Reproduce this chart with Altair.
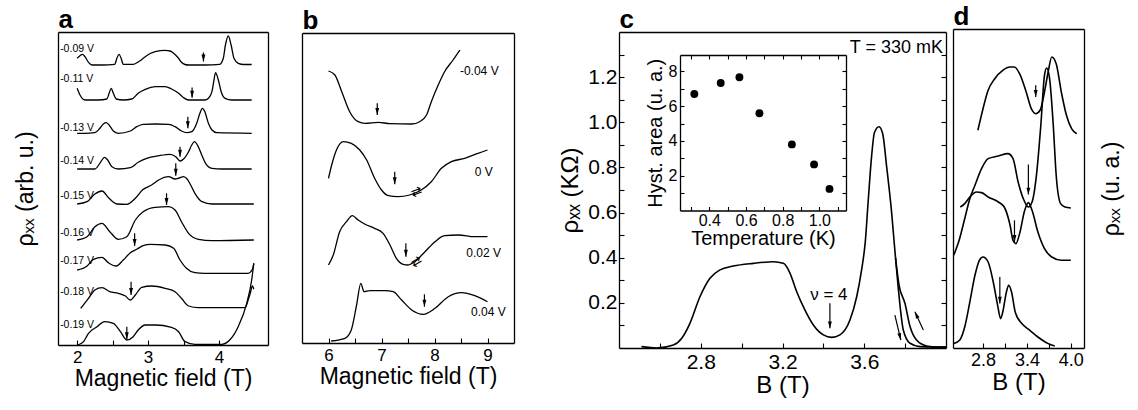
import altair as alt
import pandas as pd

FONT = "Liberation Sans"
W, H = 1138, 410
HEAD = "M0,0L-0.45,-1.6L0.45,-1.6Z"

# ---------------- Panel a : curves (B in T, rho in arb. units) ----------------
A_B_009 = [2.00, 2.04, 2.075, 2.11, 2.16, 2.21, 2.35, 2.53, 2.56, 2.59, 2.62, 2.65, 2.79, 2.88, 2.96, 3.03, 3.10,
           3.24, 3.31, 3.36, 3.42, 3.47, 3.52, 3.57, 3.80, 4.01, 4.06, 4.09, 4.13, 4.17, 4.21, 4.27, 4.35, 4.46]
A_Y_009 = [286.7, 289.3, 290.7, 288.3, 282.7, 280.0, 280.0, 280.7, 286.7, 290.7, 286.7, 280.7, 280.7, 284.0, 288.3,
           291.5, 293.3, 294.7, 294.0, 291.7, 287.5, 282.7, 280.5, 280.0, 280.0, 280.7, 286.7, 300.0, 309.0, 300.0,
           286.7, 281.7, 280.5, 280.5]
A_B_011 = [2.00, 2.04, 2.11, 2.30, 2.42, 2.45, 2.48, 2.51, 2.55, 2.65, 2.77, 2.86, 2.96, 3.10, 3.24, 3.33, 3.43,
           3.50, 3.57, 3.80, 3.85, 3.90, 3.925, 3.95, 3.99, 4.03, 4.085, 4.18, 4.46]
A_Y_011 = [256.7, 250.0, 245.0, 245.0, 246.0, 251.7, 256.7, 251.7, 246.0, 245.0, 246.0, 251.7, 255.7, 258.3, 258.3,
           256.0, 251.7, 247.3, 245.0, 245.0, 246.7, 253.3, 263.3, 272.3, 265.0, 253.3, 246.7, 245.0, 245.0]
A_B_013 = [2.00, 2.10, 2.25, 2.32, 2.37, 2.41, 2.45, 2.51, 2.58, 2.75, 2.84, 2.93, 3.10, 3.29, 3.38, 3.47, 3.545,
           3.615, 3.685, 3.73, 3.765, 3.80, 3.85, 3.90, 3.97, 4.46]
A_Y_013 = [211.7, 211.7, 212.3, 216.7, 221.0, 222.3, 220.0, 214.0, 211.7, 214.0, 218.3, 220.7, 221.0, 220.7, 218.3,
           214.0, 212.3, 213.3, 221.7, 231.7, 236.7, 233.3, 221.7, 215.0, 212.3, 211.7]
A_B_014 = [2.00, 2.10, 2.25, 2.32, 2.385, 2.43, 2.49, 2.58, 2.75, 2.86, 2.98, 3.15, 3.31, 3.39, 3.45, 3.50, 3.57,
           3.615, 3.653, 3.70, 3.756, 3.81, 3.90, 4.04, 4.46]
A_Y_014 = [176.0, 176.0, 176.0, 181.7, 187.7, 185.0, 178.3, 176.0, 177.3, 182.7, 186.7, 189.3, 190.7, 188.3, 184.0,
           186.0, 193.3, 200.0, 203.3, 199.3, 190.0, 181.7, 176.7, 176.0, 176.0]
A_B_015 = [2.00, 2.14, 2.25, 2.35, 2.45, 2.56, 2.70, 2.82, 2.92, 3.05, 3.15, 3.29, 3.38, 3.44, 3.50, 3.55, 3.60,
           3.66, 3.76, 3.90, 4.49]
A_Y_015 = [141.0, 143.3, 151.0, 154.0, 146.7, 141.0, 140.7, 146.7, 155.0, 160.0, 165.0, 168.3, 166.0, 167.0, 168.3,
           166.0, 160.0, 151.7, 143.3, 141.0, 141.0]
A_B_016 = [2.00, 2.14, 2.25, 2.35, 2.46, 2.58, 2.70, 2.82, 2.93, 3.10, 3.29, 3.38, 3.47, 3.57, 3.71, 3.90, 4.49]
A_Y_016 = [105.0, 108.3, 118.3, 121.7, 113.3, 105.7, 108.3, 125.0, 133.3, 137.7, 138.3, 135.0, 123.3, 111.7, 105.7,
           104.3, 105.0]
A_B_017 = [2.00, 2.14, 2.23, 2.35, 2.44, 2.55, 2.65, 2.75, 2.84, 2.93, 3.03, 3.24, 3.36, 3.45, 3.54, 3.66, 3.80,
           4.41, 4.47, 4.49]
A_Y_017 = [75.0, 79.0, 85.7, 87.7, 82.3, 79.0, 85.0, 92.3, 95.7, 99.3, 100.7, 100.0, 96.7, 85.0, 76.7, 72.3, 71.7,
           71.7, 75.7, 81.7]
A_B_018 = [2.05, 2.16, 2.25, 2.35, 2.46, 2.58, 2.68, 2.75, 2.82, 2.91, 3.05, 3.24, 3.38, 3.47, 3.57, 3.71, 4.37,
           4.41, 4.44, 4.47, 4.49]
A_Y_018 = [36.7, 46.7, 55.0, 57.3, 53.3, 51.7, 49.0, 45.0, 50.0, 57.7, 59.0, 56.7, 53.3, 46.7, 39.0, 37.3, 37.3,
           45.0, 51.7, 59.0, 55.7]
A_B_019 = [2.01, 2.09, 2.16, 2.28, 2.39, 2.51, 2.61, 2.70, 2.79, 2.86, 2.96, 3.10, 3.33, 3.43, 3.52, 3.66, 4.04,
           4.15, 4.27, 4.39, 4.46, 4.49]
A_Y_019 = [0.0, 3.3, 11.7, 18.3, 23.3, 21.7, 13.3, 5.0, 8.3, 15.0, 20.0, 20.0, 17.7, 13.3, 3.3, 0.7, 0.7, 5.0, 18.3,
           41.7, 65.0, 81.7]
A_LABELS = ["-0.09 V", "-0.11 V", "-0.13 V", "-0.14 V", "-0.15 V", "-0.16 V", "-0.17 V", "-0.18 V", "-0.19 V"]
A_LABEL_X = [1.76, 1.76, 1.76, 1.76, 1.76, 1.76, 1.76, 1.76, 1.76]
A_LABEL_Y = [295.7, 265.7, 217.0, 184.0, 149.0, 111.7, 84.0, 53.3, 20.0]
A_ARROW_X = [3.78, 3.62, 3.56, 3.45, 3.39, 3.26, 2.81, 2.76, 2.70]
A_ARROW_TOP = [292.5, 257.5, 228.3, 198.3, 181.7, 151.7, 111.7, 63.3, 18.3]
A_ARROW_TIP = [283.5, 247.3, 216.7, 188.3, 169.3, 140.0, 99.0, 50.0, 5.7]

# ---------------- Panel b ----------------
B_B_M004 = [6.00, 6.12, 6.25, 6.40, 6.56, 6.69, 6.94, 7.16, 7.57, 7.72, 7.85, 7.94, 8.07, 8.19, 8.35, 8.48]
B_Y_M004 = [272.0, 268.0, 251.3, 231.3, 221.3, 219.7, 220.7, 219.3, 219.0, 221.3, 228.0, 241.3, 258.0, 271.3, 283.0,
            293.0]
B_B_0 = [6.00, 6.06, 6.15, 6.28, 6.43, 6.59, 6.72, 6.87, 7.00, 7.13, 7.31, 7.53, 7.75, 7.94, 8.13, 8.32, 8.57, 8.82,
         9.00]
B_Y_0 = [164.7, 178.0, 193.0, 201.3, 199.7, 193.0, 183.0, 164.7, 153.0, 147.3, 146.3, 148.0, 153.0, 161.3, 174.7,
         181.3, 184.7, 189.7, 193.0]
B_B_002 = [6.00, 6.09, 6.21, 6.34, 6.45, 6.56, 6.69, 6.87, 7.03, 7.16, 7.28, 7.41, 7.50, 7.63, 7.82, 8.01, 8.19,
           8.45, 8.76, 9.00]
B_Y_002 = [78.0, 88.0, 111.3, 121.3, 127.3, 123.0, 118.7, 114.7, 109.7, 98.0, 84.7, 78.7, 78.0, 81.3, 91.3, 101.3,
           107.3, 108.0, 106.3, 106.3]
B_B_004 = [6.05, 6.31, 6.43, 6.53, 6.61, 6.67, 6.78, 7.06, 7.22, 7.38, 7.57, 7.79, 8.01, 8.26, 8.51, 8.76, 9.00]
B_Y_004 = [2.0, 4.7, 13.0, 38.0, 59.7, 51.3, 52.3, 52.3, 51.3, 43.0, 33.0, 28.7, 34.7, 46.3, 50.3, 47.3, 41.3]
B_LABELS = ["-0.04 V", "0 V", "0.02 V", "0.04 V"]
B_LABEL_X = [8.48, 8.76, 8.60, 8.69]
B_LABEL_Y = [272.0, 171.0, 89.7, 31.3]
B_ARROW_X = [6.92, 7.25, 7.46, 7.81]
B_ARROW_TOP = [239.7, 171.3, 99.7, 48.7]
B_ARROW_TIP = [228.0, 158.7, 86.3, 36.3]
B_HYST_X = [7.66, 7.66]
B_HYST_Y = [151.0, 81.3]
B_HYST_ANG = [340, 330]

# ---------------- Panel c ----------------
C_B = [2.51, 2.585, 2.666, 2.707, 2.747, 2.796, 2.845, 2.894, 2.959, 3.057, 3.155, 3.204, 3.237, 3.269, 3.310,
       3.351, 3.400, 3.441, 3.481, 3.530, 3.563, 3.587, 3.605, 3.620, 3.635, 3.650, 3.672, 3.690, 3.710, 3.734, 3.753]
C_R = [0.006, 0.0, 0.013, 0.043, 0.109, 0.227, 0.309, 0.346, 0.363, 0.375, 0.382, 0.375, 0.331, 0.250, 0.168,
       0.102, 0.058, 0.047, 0.058, 0.124, 0.227, 0.346, 0.47, 0.66, 0.84, 0.955, 0.98, 0.95, 0.80, 0.60, 0.40]
C_IN_B = [3.753, 3.766, 3.791, 3.824, 3.873, 3.94, 4.0]
C_IN_R = [0.40, 0.27, 0.08, 0.021, 0.006, 0.004, 0.004]
C_OUT_B = [3.753, 3.770, 3.799, 3.824, 3.856, 3.905, 3.96, 4.0]
C_OUT_R = [0.40, 0.28, 0.198, 0.095, 0.035, 0.009, 0.004, 0.004]
C_ARROW_X = [3.432, 3.750, 3.889]
C_ARROW_X2 = [3.432, 3.779, 3.848]
C_ARROW_Y = [0.198, 0.146, 0.080]
C_ARROW_Y2 = [0.087, 0.035, 0.161]
C_ARROW_ANG = [0, 346.5, 155.6]

# inset
T_K = [0.318, 0.462, 0.564, 0.673, 0.850, 0.971, 1.055]
HYST = [6.70, 7.33, 7.66, 5.59, 3.80, 2.65, 1.24]

# ---------------- Panel d ----------------
D_B_TOP = [2.73, 2.80, 2.87, 2.96, 3.07, 3.17, 3.23, 3.30, 3.39, 3.46, 3.52, 3.58, 3.64, 3.69, 3.74, 3.80, 3.87,
           3.94, 4.01, 4.08]
D_Y_TOP = [217.7, 239.3, 257.7, 269.3, 277.7, 281.0, 281.0, 274.3, 256.0, 239.3, 234.3, 237.7, 256.0, 276.0, 291.0,
           284.3, 256.0, 232.7, 219.3, 214.3]
D_B_A = [2.40, 2.48, 2.55, 2.62, 2.69, 2.78, 2.87, 3.01, 3.14, 3.21, 3.28, 3.35, 3.42, 3.47, 3.53, 3.59, 3.64, 3.67,
         3.71, 3.76, 3.80, 3.86, 3.92, 4.00]
D_Y_A = [92.7, 109.3, 129.3, 149.3, 162.7, 179.4, 189.4, 192.0, 194.4, 189.4, 166.0, 149.4, 141.0, 146.0, 172.7,
         222.7, 272.7, 280.0, 269.4, 222.7, 172.7, 144.4, 141.0, 140.0]
D_B_B = [2.49, 2.55, 2.62, 2.71, 2.78, 2.87, 3.01, 3.09, 3.17, 3.21, 3.25, 3.30, 3.37, 3.42, 3.47, 3.55, 3.64, 3.74,
         3.87, 4.00]
D_Y_B = [141.0, 144.4, 151.0, 156.0, 155.4, 151.0, 146.0, 141.0, 122.7, 107.7, 104.4, 114.4, 137.7, 145.4, 137.7,
         116.0, 99.4, 91.0, 87.7, 87.7]
D_B_BOT = [2.40, 2.48, 2.55, 2.62, 2.69, 2.75, 2.80, 2.87, 2.94, 3.00, 3.04, 3.07, 3.12, 3.15, 3.19, 3.24, 3.33,
           3.44, 3.55, 3.69, 3.78]
D_Y_BOT = [4.4, 7.7, 21.0, 46.0, 72.7, 87.7, 91.0, 86.0, 66.0, 42.7, 29.4, 36.0, 56.0, 62.7, 56.0, 36.0, 24.4, 17.7,
           11.0, 4.4, 2.0]
D_ARROW_X = [3.52, 3.42, 3.23, 3.03]
D_ARROW_TOP = [262.7, 183.4, 127.7, 71.0]
D_ARROW_TIP = [251.0, 153.4, 106.0, 44.4]

# tick values
A_TICKS = [2, 2.5, 3, 3.5, 4]
B_TICKS = [6, 6.5, 7, 7.5, 8, 8.5, 9]
C_XTICKS = [2.6, 2.8, 3.0, 3.2, 3.4, 3.6, 3.8]
C_YTICKS = [0.1, 0.2, 0.3, 0.4, 0.5, 0.6, 0.7, 0.8, 0.9, 1.0, 1.1, 1.2, 1.3]
I_XTICKS = [0.3, 0.4, 0.5, 0.6, 0.7, 0.8, 0.9, 1.0, 1.1]
I_YTICKS = [1, 2, 3, 4, 5, 6, 7, 8]
D_TICKS = [2.8, 3.1, 3.4, 3.7, 4.0]


def curves(items):
    rows = []
    for name, bs, ys in items:
        for i, (b, y) in enumerate(zip(bs, ys)):
            rows.append({"c": name, "i": i, "x": b, "y": y})
    return pd.DataFrame(rows)


def ax(orient, offset, values=None, labels=False, ticks=False, domain=True, title=None, tick_size=5,
       fmt=None, label_size=17, label_pad=3, title_size=22, title_pad=4, letter=False,
       title_angle=None, title_baseline=None):
    kw = dict(orient=orient, offset=offset, grid=False, domain=domain, ticks=ticks, labels=labels,
              domainColor="black", domainWidth=1.3, tickColor="black", tickWidth=1.1,
              tickSize=tick_size if ticks else 0)
    if values is not None:
        kw["values"] = values
    if labels:
        kw.update(labelFont=FONT, labelFontSize=label_size, labelPadding=label_pad, labelColor="black",
                  labelFlush=False, labelOverlap=False, labelBound=False)
        if fmt:
            kw["format"] = fmt
    else:
        kw.update(minExtent=0, maxExtent=0)
    if title is None:
        kw["title"] = None
    else:
        kw.update(title=title, titleFont=FONT, titleFontSize=title_size, titlePadding=title_pad,
                  titleColor="black", titleFontWeight="bold" if letter else "normal")
        if letter:
            kw.update(titleAnchor="start", titleAlign="left", titleBaseline="alphabetic")
        if title_angle is not None:
            kw["titleAngle"] = title_angle
        if title_baseline:
            kw["titleBaseline"] = title_baseline
    return alt.Axis(**kw)


def sc(domain, rng):
    return alt.Scale(domain=domain, range=rng, nice=False, zero=False)


def line(df, sx, sy, xaxis=None, yaxis=None, width=1.3):
    return alt.Chart(df).mark_line(color="black", strokeWidth=width, interpolate="monotone").encode(
        x=alt.X("x:Q", scale=sx, axis=xaxis), y=alt.Y("y:Q", scale=sy, axis=yaxis),
        detail="c:N", order="i:Q")


def arrows(df, sx, sy, xaxis=None, yaxis=None, xaxis2=None, yaxis2=None):
    r = alt.Chart(df).mark_rule(color="black", strokeWidth=1.2).encode(
        x=alt.X("x:Q", scale=sx, axis=xaxis), x2="x2:Q",
        y=alt.Y("y:Q", scale=sy, axis=yaxis), y2="y2:Q")
    h = alt.Chart(df).mark_point(shape=HEAD, filled=True, color="black", size=75, opacity=1, strokeWidth=0).encode(
        x=alt.X("x2:Q", scale=sx, axis=xaxis2), y=alt.Y("y2:Q", scale=sy, axis=yaxis2),
        angle=alt.Angle("ang:Q", scale=None))
    return r, h


def texts(df, sx, sy, size, align="left", angle_field=False, font=FONT):
    enc = dict(x=alt.X("x:Q", scale=sx, axis=None), y=alt.Y("y:Q", scale=sy, axis=None), text="t:N")
    if angle_field:
        enc["angle"] = alt.Angle("ang:Q", scale=None)
    return alt.Chart(df).mark_text(align=align, baseline="middle", font=font, fontSize=size,
                                   color="black").encode(**enc)


layers = []

# ---------- panel a ----------
La, Ra, Ta, Ba = 58, 268, 32, 345
SXa = sc([1.73, 4.69], [La, Ra])
SYa = sc([0, 313], [Ba, Ta])
dfa = curves([("009", A_B_009, A_Y_009), ("011", A_B_011, A_Y_011), ("013", A_B_013, A_Y_013),
              ("014", A_B_014, A_Y_014), ("015", A_B_015, A_Y_015), ("016", A_B_016, A_Y_016),
              ("017", A_B_017, A_Y_017), ("018", A_B_018, A_Y_018), ("019", A_B_019, A_Y_019)])
arra = pd.DataFrame({"x": A_ARROW_X, "x2": A_ARROW_X, "y": A_ARROW_TOP, "y2": A_ARROW_TIP,
                     "ang": [0] * len(A_ARROW_X)})
laba = pd.DataFrame({"x": A_LABEL_X, "y": A_LABEL_Y, "t": A_LABELS})
layers.append(line(dfa, SXa, SYa,
                   ax("bottom", Ba - H, values=[2, 3, 4], labels=True, domain=False, fmt="d",
                      title="Magnetic field (T)", title_size=23, title_pad=2, label_pad=4),
                   ax("left", -La, title="ρₓₓ (arb. u.)", title_size=23, title_pad=21)))
r, h = arrows(arra, SXa, SYa, ax("top", -Ba, values=A_TICKS, ticks=True), ax("right", Ra - W),
              ax("top", -Ta, title="a", letter=True, title_size=26, title_pad=5))
layers += [r, h, texts(laba, SXa, SYa, 10.5)]

# ---------- panel b ----------
Lb, Rb, Tb, Bb = 302, 514, 33, 343
SXb = sc([5.5, 9.5], [Lb, Rb])
SYb = sc([0, 310], [Bb, Tb])
dfb = curves([("m004", B_B_M004, B_Y_M004), ("0", B_B_0, B_Y_0), ("002", B_B_002, B_Y_002),
              ("004", B_B_004, B_Y_004)])
arrb = pd.DataFrame({"x": B_ARROW_X, "x2": B_ARROW_X, "y": B_ARROW_TOP, "y2": B_ARROW_TIP,
                     "ang": [0] * len(B_ARROW_X)})
labb = pd.DataFrame({"x": B_LABEL_X, "y": B_LABEL_Y, "t": B_LABELS})
hystb = pd.DataFrame({"x": B_HYST_X, "y": B_HYST_Y, "t": ["⇄", "⇄"], "ang": B_HYST_ANG})
layers.append(line(dfb, SXb, SYb,
                   ax("bottom", Bb - H, values=[6, 7, 8, 9], labels=True, domain=False, fmt="d",
                      title="Magnetic field (T)", title_size=23, title_pad=2, label_pad=4),
                   ax("left", -Lb)))
r, h = arrows(arrb, SXb, SYb, ax("top", -Bb, values=B_TICKS, ticks=True), ax("right", Rb - W),
              ax("top", -Tb, title="b", letter=True, title_size=26, title_pad=5))
layers += [r, h, texts(labb, SXb, SYb, 12),
           texts(hystb, SXb, SYb, 13, align="center", angle_field=True, font="DejaVu Sans")]

# ---------- panel c ----------
Lc, Rc, Tc, Bc = 619, 946, 32, 348
SXc = sc([2.4, 4.0], [Lc, Rc])
SYc = sc([0, 1.4], [Bc, Tc])
dfc = curves([("main", C_B, C_R), ("in", C_IN_B, C_IN_R), ("out", C_OUT_B, C_OUT_R)])
arrc = pd.DataFrame({"x": C_ARROW_X, "x2": C_ARROW_X2, "y": C_ARROW_Y, "y2": C_ARROW_Y2, "ang": C_ARROW_ANG})
layers.append(line(dfc, SXc, SYc,
                   ax("bottom", Bc - H, values=[2.8, 3.2, 3.6], labels=True, domain=False, fmt=".1f",
                      title="B (T)", title_size=24, title_pad=1, label_size=21, label_pad=3),
                   ax("left", -Lc, values=[0.2, 0.4, 0.6, 0.8, 1.0, 1.2], labels=True, domain=False, fmt=".1f",
                      title="ρₓₓ (KΩ)", title_size=24, title_pad=5, label_size=21, label_pad=2), width=1.6))
r, h = arrows(arrc, SXc, SYc, ax("top", -Bc, values=C_XTICKS, ticks=True),
              ax("right", Lc - W, values=C_YTICKS, ticks=True),
              ax("top", -Tc, title="c", letter=True, title_size=26, title_pad=5),
              ax("left", -Rc, values=C_YTICKS, ticks=True))
layers += [r, h,
           texts(pd.DataFrame({"x": [3.985], "y": [1.331], "t": ["T = 330 mK"]}), SXc, SYc, 18, align="right"),
           texts(pd.DataFrame({"x": [3.427], "y": [0.235], "t": ["ν = 4"]}), SXc, SYc, 17, align="center")]

# ---------- inset ----------
Li, Ri, Ti, Bi = 680, 846, 55, 210.5
SXi = sc([0.24, 1.145], [Li, Ri])
SYi = sc([0, 8.94], [Bi, Ti])
dfi = pd.DataFrame({"x": T_K, "y": HYST})
layers.append(alt.Chart(dfi).mark_circle(color="black", size=62, opacity=1).encode(
    x=alt.X("x:Q", scale=SXi, axis=ax("bottom", Bi - H, values=[0.4, 0.6, 0.8, 1.0], labels=True, domain=False,
                                      fmt=".1f", title="Temperature (K)", title_size=20, title_pad=0,
                                      label_size=16, label_pad=2)),
    y=alt.Y("y:Q", scale=SYi, axis=ax("left", -Li, values=[2, 4, 6, 8], labels=True, domain=False, fmt="d",
                                      title="Hyst. area (u. a.)", title_size=20, title_pad=3,
                                      label_size=16, label_pad=3))))
layers.append(alt.Chart(dfi).mark_point(opacity=0).encode(
    x=alt.X("x:Q", scale=SXi, axis=ax("top", -Bi, values=I_XTICKS, ticks=True, tick_size=4)),
    y=alt.Y("y:Q", scale=SYi, axis=ax("right", Li - W, values=I_YTICKS, ticks=True, tick_size=4))))
layers.append(alt.Chart(dfi).mark_point(opacity=0).encode(
    x=alt.X("x:Q", scale=SXi, axis=ax("bottom", Ti - H, values=I_XTICKS, ticks=True, tick_size=4)),
    y=alt.Y("y:Q", scale=SYi, axis=ax("left", -Ri, values=I_YTICKS, ticks=True, tick_size=4))))

# ---------- panel d ----------
Ld, Rd, Td, Bd = 953, 1084, 29, 348
SXd = sc([2.39, 4.18], [Ld, Rd])
SYd = sc([0, 319], [Bd, Td])
dfd = curves([("top", D_B_TOP, D_Y_TOP), ("A", D_B_A, D_Y_A), ("B", D_B_B, D_Y_B), ("bot", D_B_BOT, D_Y_BOT)])
arrd = pd.DataFrame({"x": D_ARROW_X, "x2": D_ARROW_X, "y": D_ARROW_TOP, "y2": D_ARROW_TIP,
                     "ang": [0] * len(D_ARROW_X)})
layers.append(line(dfd, SXd, SYd,
                   ax("bottom", Bd - H, values=[2.8, 3.4, 4.0], labels=True, domain=False, fmt=".1f",
                      title="B (T)", title_size=24, title_pad=1, label_size=18, label_pad=3),
                   ax("right", Rd - W, title="ρₓₓ (u. a.)", title_size=23, title_pad=16,
                      title_angle=270, title_baseline="top"), width=1.6))
r, h = arrows(arrd, SXd, SYd, ax("top", -Bd, values=D_TICKS, ticks=True), ax("left", -Ld),
              ax("top", -Td, title="d", letter=True, title_size=26, title_pad=5))
layers += [r, h]

chart = alt.layer(*layers).resolve_scale(x="independent", y="independent").resolve_axis(
    x="independent", y="independent").properties(
    width=W, height=H, autosize=alt.AutoSizeParams(type="none"), padding=0,
    background="white").configure_view(stroke=None)

chart.save("out.html", embed_options={"renderer": "svg", "actions": False})
